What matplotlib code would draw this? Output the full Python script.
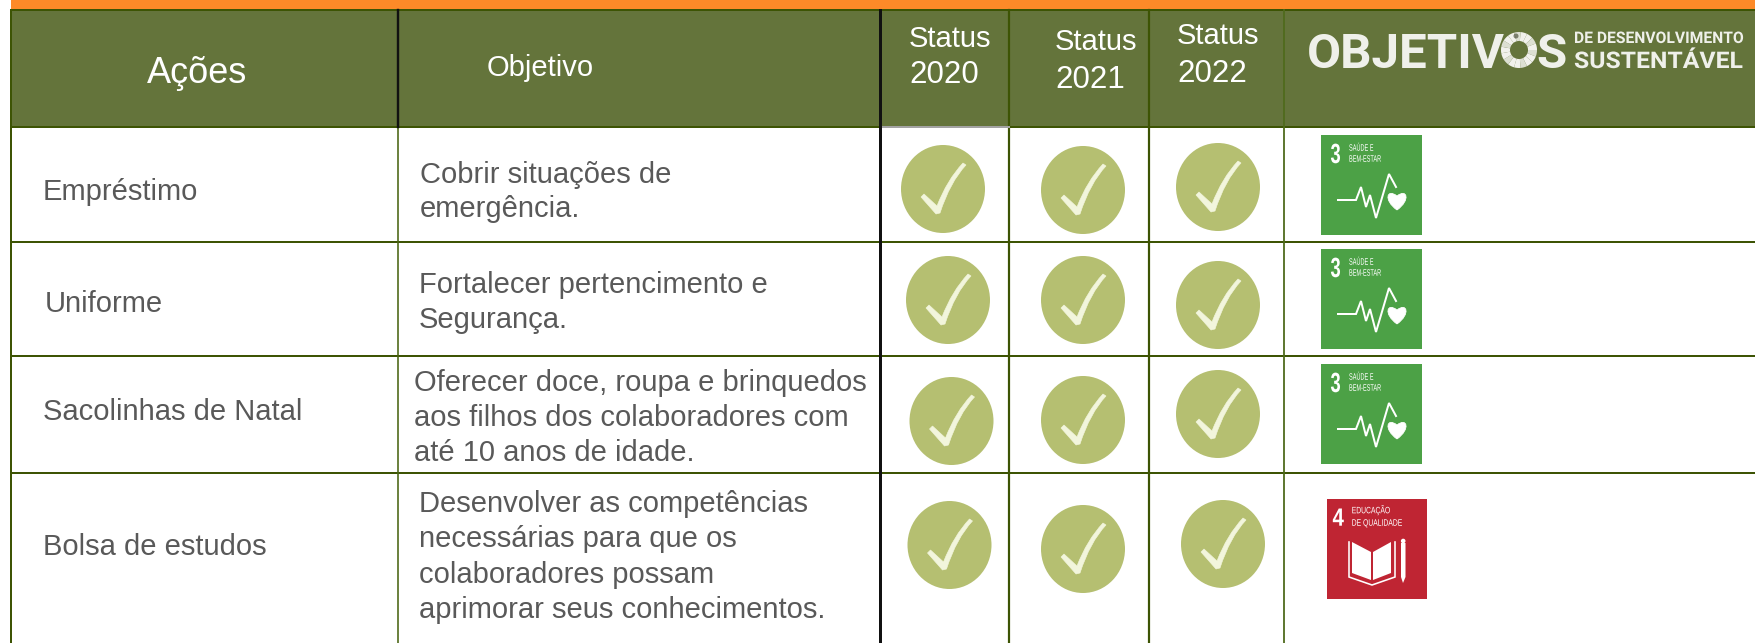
import matplotlib

matplotlib.use("Agg")
import matplotlib.pyplot as plt
from matplotlib.patches import Circle, Ellipse, PathPatch, Polygon, Rectangle, Wedge
from matplotlib.path import Path
from matplotlib.patheffects import AbstractPathEffect
from matplotlib.transforms import Affine2D

WIDTH = 1756
HEIGHT = 643
OUTPUT_FILE = "out.png"

# table content
ACOES = ["Empréstimo", "Uniforme", "Sacolinhas de Natal", "Bolsa de estudos"]
OBJETIVOS = [
    ["Cobrir situações de", "emergência."],
    ["Fortalecer pertencimento e", "Segurança."],
    ["Oferecer doce, roupa e brinquedos", "aos filhos dos colaboradores com", "até 10 anos de idade."],
    ["Desenvolver as competências", "necessárias para que os", "colaboradores possam", "aprimorar seus conhecimentos."],
]
ANOS = ["2020", "2021", "2022"]
STATUS_2020 = [True, True, True, True]
STATUS_2021 = [True, True, True, True]
STATUS_2022 = [True, True, True, True]
ODS_NUMERO = [3, 3, 3, 4]
ODS_TITULO = {3: ["SAÚDE E", "BEM-ESTAR"], 4: ["EDUCAÇÃO", "DE QUALIDADE"]}

# layout, in pixels of the picture
COL_X = [11, 398, 880, 1009, 1149, 1284]
ROW_Y = [10, 126.5, 241.5, 356, 473, 643]
ACAO_POS = [(43, 200), (45, 312), (43, 420), (43, 555)]
OBJ_POS = [(420, [183, 217]), (419, [293, 328]), (414.5, [391, 426, 461]), (419, [512, 547, 583, 618])]
STATUS_HEAD = [(909, 47, 83), (1055, 50, 88), (1177, 44.5, 82.5)]
CHECK_X = [[943, 948, 951.5, 949.5], [1083, 1083, 1083, 1083], [1218, 1218, 1218, 1223]]
CHECK_Y = [[189, 300, 421, 545], [190, 300, 420, 549], [187, 305, 414, 544]]
ICON_POS = [(1321, 135), (1321, 249), (1321, 364), (1327, 499)]

ORANGE = "#fd8a28"
HEADER = "#64743b"
LINE = "#3d5404"
TEXT = "#595959"
CIRCLE = "#b5bf71"
TICK = "#f2f5dc"
GREEN = "#4ca146"
RED = "#bf2533"
LOGO = "#eff0ea"
SANS = "Liberation Sans"


class Stretch(AbstractPathEffect):
    # no condensed font here, so squeeze the glyphs of a real text sideways
    def __init__(self, factor: float):
        super().__init__()
        self.factor = factor

    def draw_path(self, renderer, gc, tpath, affine, rgbFace=None):
        renderer.draw_path(gc, tpath, Affine2D().scale(self.factor, 1) + affine, rgbFace)


def px(width: float) -> float:
    return width * 0.72


def draw_check(ax, cx: float, cy: float) -> None:
    verts = [
        (cx - 22, cy + 8), (cx - 19, cy + 5), (cx - 6, cy + 17), (cx + 4, cy - 9), (cx + 20, cy - 26),
        (cx + 23, cy - 24), (cx + 7, cy - 7), (cx - 3, cy + 24), (cx - 7, cy + 25), (cx - 22, cy + 8),
    ]
    codes = [Path.MOVETO, Path.LINETO, Path.LINETO, Path.CURVE3, Path.CURVE3,
             Path.LINETO, Path.CURVE3, Path.CURVE3, Path.LINETO, Path.CLOSEPOLY]
    ax.add_patch(PathPatch(Path(verts, codes), facecolor=TICK, edgecolor=TICK, linewidth=px(0.6), zorder=4))


def icon_text(ax, x: float, y: float, label: str, size: float, factor: float, bold: bool = False) -> None:
    ax.text(x, y, label, color="white", fontsize=size, family=SANS, fontweight="bold" if bold else "normal",
            ha="left", va="baseline", zorder=4, path_effects=[Stretch(factor)])


def draw_health_icon(ax, x: float, y: float) -> None:
    ax.add_patch(Rectangle((x, y), 101, 100, facecolor=GREEN, edgecolor="none", zorder=3))
    icon_text(ax, x + 9.5, y + 28, "3", 20, 0.66, bold=True)
    for row, line in enumerate(ODS_TITULO[3]):
        icon_text(ax, x + 28, y + 15.7 + row * 11, line, 6.7, 0.6)
    trace_x = [17, 35, 40, 45, 49, 55, 68, 75]
    trace_y = [65, 65, 52, 72, 60, 83, 39, 52]
    ax.plot([x + v for v in trace_x], [y + v for v in trace_y], color="white", linewidth=px(2),
            solid_joinstyle="miter", zorder=4)
    hx, hy = x + 76, y + 66
    verts = [(hx, hy + 9), (hx - 14, hy - 1), (hx - 10, hy - 13), (hx, hy - 5),
             (hx + 10, hy - 13), (hx + 14, hy - 1), (hx, hy + 9)]
    codes = [Path.MOVETO, Path.CURVE4, Path.CURVE4, Path.CURVE4, Path.CURVE4, Path.CURVE4, Path.CURVE4]
    ax.add_patch(PathPatch(Path(verts, codes), facecolor="white", edgecolor="white", linewidth=px(0.8), zorder=4))


def draw_education_icon(ax, x: float, y: float) -> None:
    ax.add_patch(Rectangle((x, y), 100, 100, facecolor=RED, edgecolor="none", zorder=3))
    icon_text(ax, x + 5.5, y + 26.7, "4", 18, 0.82, bold=True)
    for row, line in enumerate(ODS_TITULO[4]):
        icon_text(ax, x + 24.7, y + 14.3 + row * 12.4, line, 6.7, 0.73)
    left_page = [(x + 25, y + 43), (x + 44, y + 53), (x + 44, y + 81), (x + 25, y + 74)]
    right_page = [(x + 46, y + 53), (x + 64, y + 43), (x + 64, y + 74), (x + 46, y + 81)]
    ax.add_patch(Polygon(left_page, facecolor="white", edgecolor="none", zorder=4))
    ax.add_patch(Polygon(right_page, facecolor="white", edgecolor="none", zorder=4))
    ax.plot([x + 22, x + 22, x + 45, x + 68, x + 68], [y + 43, y + 78, y + 86, y + 78, y + 43],
            color="white", linewidth=px(1.6), solid_joinstyle="miter", zorder=4)
    ax.add_patch(Polygon([(x + 74, y + 44), (x + 78.5, y + 44), (x + 78.5, y + 78), (x + 76, y + 84), (x + 74, y + 78)],
                         facecolor="white", edgecolor="none", zorder=4))
    ax.add_patch(Circle((x + 76.2, y + 42), 2.3, facecolor="white", edgecolor="none", zorder=4))


def draw_logo(ax) -> None:
    ax.text(1307, 68, "OBJETIV", color=LOGO, fontsize=35.5, family="Roboto", fontweight="bold",
            ha="left", va="baseline", zorder=4)
    ax.text(1536, 68, "S", color=LOGO, fontsize=35.5, family="Roboto", fontweight="bold",
            ha="left", va="baseline", zorder=4)
    n_parts = 17
    for part in range(n_parts):
        shade = "#f1f1ec" if part % 3 else "#dcdfd2"
        ax.add_patch(Wedge((1519, 50), 18, part * 360 / n_parts, (part + 1) * 360 / n_parts, width=9,
                           facecolor=shade, edgecolor="none", zorder=4))
    ax.add_patch(Wedge((1516, 36), 2.5, 0, 360, width=2.5, facecolor="#3a3f2a", edgecolor="none", zorder=5, alpha=0.6))
    ax.text(1574, 43, "DE DESENVOLVIMENTO", color=LOGO, fontsize=11.5, family="Roboto", fontweight="bold",
            ha="left", va="baseline", zorder=4, path_effects=[Stretch(0.98)])
    ax.text(1574, 68, "SUSTENTÁVEL", color=LOGO, fontsize=16.5, family="Roboto", fontweight="bold",
            ha="left", va="baseline", zorder=4, path_effects=[Stretch(1.08)])


def main() -> None:
    fig = plt.figure(figsize=(WIDTH / 100, HEIGHT / 100), dpi=100)
    ax = fig.add_axes([0, 0, 1, 1])
    ax.set_xlim(0, WIDTH)
    ax.set_ylim(HEIGHT, 0)
    ax.axis("off")

    ax.add_patch(Rectangle((11, 0), WIDTH - 11, 10, facecolor=ORANGE, edgecolor="none"))
    ax.add_patch(Rectangle((11, 10), WIDTH - 11, ROW_Y[1] - 10, facecolor=HEADER, edgecolor="none"))

    for y in ROW_Y[:5]:
        ax.plot([11, WIDTH], [y, y], color=LINE, linewidth=px(2), zorder=2)
    ax.plot([880, 1009], [ROW_Y[1], ROW_Y[1]], color="#a3a3a3", linewidth=px(2), zorder=2.1)

    ax.plot([COL_X[0]] * 2, [10, HEIGHT], color=LINE, linewidth=px(2), zorder=2)
    ax.plot([COL_X[1]] * 2, [10, ROW_Y[1]], color="#111111", linewidth=px(2.4), zorder=2.2)
    ax.plot([COL_X[1]] * 2, [ROW_Y[1], HEIGHT], color="#4a6512", linewidth=px(1.6), zorder=2)
    ax.plot([COL_X[2]] * 2, [10, HEIGHT], color="#111111", linewidth=px(3), zorder=2.2)
    ax.plot([COL_X[3]] * 2, [10, HEIGHT], color=LINE, linewidth=px(2.2), zorder=2)
    ax.plot([COL_X[4]] * 2, [10, HEIGHT], color=LINE, linewidth=px(2.2), zorder=2)
    ax.plot([COL_X[5]] * 2, [10, HEIGHT], color="#4f6a1c", linewidth=px(1.8), zorder=2)

    ax.text(147, 83, "Ações", color="white", fontsize=26, family=SANS, ha="left", va="baseline")
    ax.text(487, 76, "Objetivo", color="white", fontsize=21, family=SANS, ha="left", va="baseline")
    for (x, y_status, y_year), ano in zip(STATUS_HEAD, ANOS):
        ax.text(x, y_status, "Status", color="white", fontsize=21, family=SANS, ha="left", va="baseline")
        ax.text(x, y_year, ano, color="white", fontsize=22.5, family=SANS, ha="left", va="baseline")
    draw_logo(ax)

    for acao, (x, y) in zip(ACOES, ACAO_POS):
        ax.text(x, y, acao, color=TEXT, fontsize=21, family=SANS, ha="left", va="baseline")
    for linhas, (x, baselines) in zip(OBJETIVOS, OBJ_POS):
        for linha, y in zip(linhas, baselines):
            ax.text(x, y, linha, color=TEXT, fontsize=21, family=SANS, ha="left", va="baseline")

    for column, status in enumerate([STATUS_2020, STATUS_2021, STATUS_2022]):
        for row, done in enumerate(status):
            if not done:
                continue
            cx, cy = CHECK_X[column][row], CHECK_Y[column][row]
            ax.add_patch(Ellipse((cx, cy), 84, 88, facecolor=CIRCLE, edgecolor="none", zorder=3))
            draw_check(ax, cx, cy)

    for numero, (x, y) in zip(ODS_NUMERO, ICON_POS):
        if numero == 3:
            draw_health_icon(ax, x, y)
        else:
            draw_education_icon(ax, x, y)

    fig.savefig(OUTPUT_FILE, dpi=100)


if __name__ == "__main__":
    main()
